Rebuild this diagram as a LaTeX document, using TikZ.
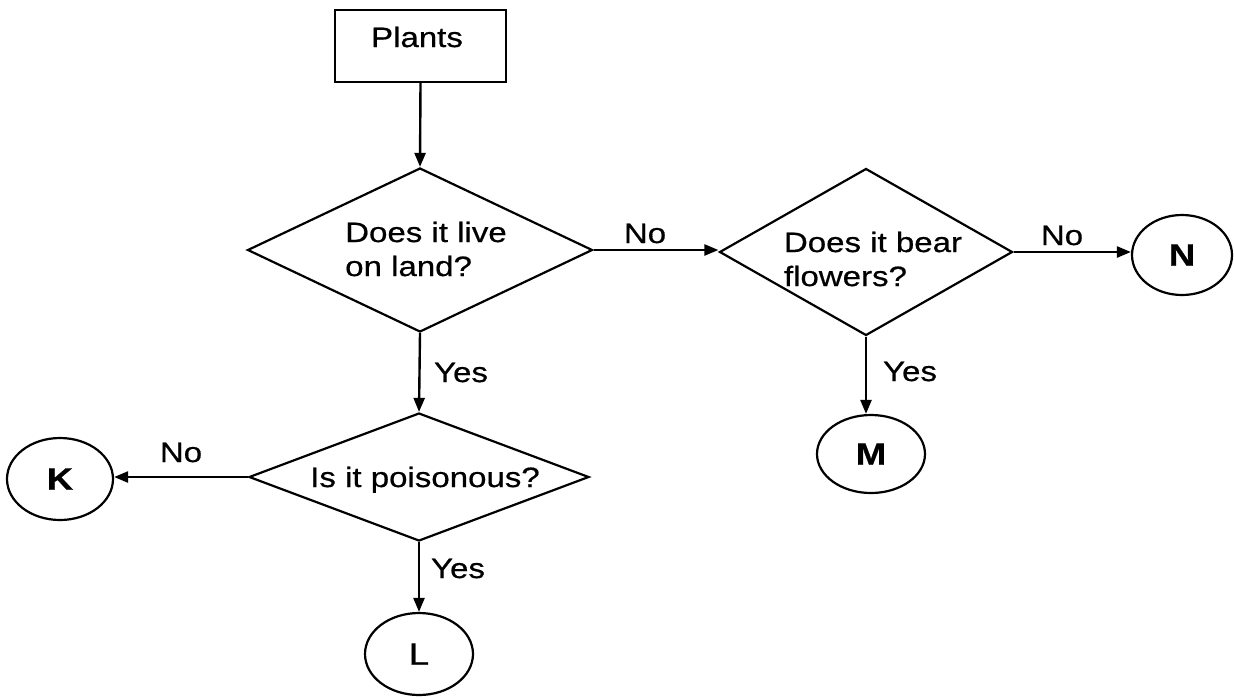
\documentclass[tikz,border=0pt]{standalone}
\usepackage{fontspec}
\setmainfont[FakeStretch=1.18,FakeBold=0.6]{Liberation Sans}
\usetikzlibrary{shapes.geometric,arrows.meta}
\begin{document}
\begin{tikzpicture}[x=1pt,y=-1pt,
  every node/.style={font=\fontsize{28}{34}\selectfont},
  box/.style={draw, line width=2.2pt, minimum width=171pt, minimum height=72pt, inner sep=0pt},
  dia/.style={draw, diamond, line width=2.2pt, inner sep=0pt},
  oval/.style={draw, ellipse, line width=2.2pt, inner sep=0pt, font=\fontsize{31}{36}\selectfont},
  txt/.style={align=left, inner sep=0pt},
  lbl/.style={inner sep=0pt, anchor=base},
  arr/.style={line width=2.4pt, -{Triangle[length=14pt,width=11pt]}},
]
\fill[white] (0,0) rectangle (1234,697);
\useasboundingbox (0,0) rectangle (1234,697);

% nodes
\node[box] (plants) at (420.5,46) {};
\node[lbl] (plantsT) at (417,47) {Plants};

\node[dia, minimum width=345pt, minimum height=164pt] (d1) at (420,250) {};
\node[txt] (t1) at (426,249) {Does it live\\on land?};

\node[dia, minimum width=293pt, minimum height=167pt] (d2) at (866,252) {};
\node[txt] (t2) at (873,259) {Does it bear\\flowers?};

\node[dia, minimum width=340pt, minimum height=128pt] (d3) at (419,477) {};
\node[lbl] (t3) at (425,487) {Is it poisonous?};

\node[oval, minimum width=106pt, minimum height=82pt] (K) at (60,479) {\bfseries K};
\node[oval, minimum width=108pt, minimum height=82pt] (L) at (419,654) {L};
\node[oval, minimum width=108pt, minimum height=78pt] (M) at (871,454) {\bfseries M};
\node[oval, minimum width=100pt, minimum height=80pt] (N) at (1182,255) {\bfseries N};

% connectors
\draw[arr] (plants.south) -- (d1.north);
\draw[arr] (d1.east) -- (d1.east -| d2.west);
\draw[arr] (d2.east) -- (d2.east -| N.west);
\draw[arr] (d2.south) -- (d2.south |- M.north);
\draw[arr] (d1.south) -- (d3.north);
\draw[arr] (d3.west) -- (d3.west -| K.east);
\draw[arr] (d3.south) -- (L.north);

% labels
\node[lbl] (no1) at (645,243) {No};
\node[lbl] (no2) at (1062,245) {No};
\node[lbl] (no3) at (181,462) {No};
\node[lbl] (yes1) at (461,382) {Yes};
\node[lbl] (yes2) at (910,381) {Yes};
\node[lbl] (yes3) at (458,578) {Yes};
\end{tikzpicture}
\end{document}
